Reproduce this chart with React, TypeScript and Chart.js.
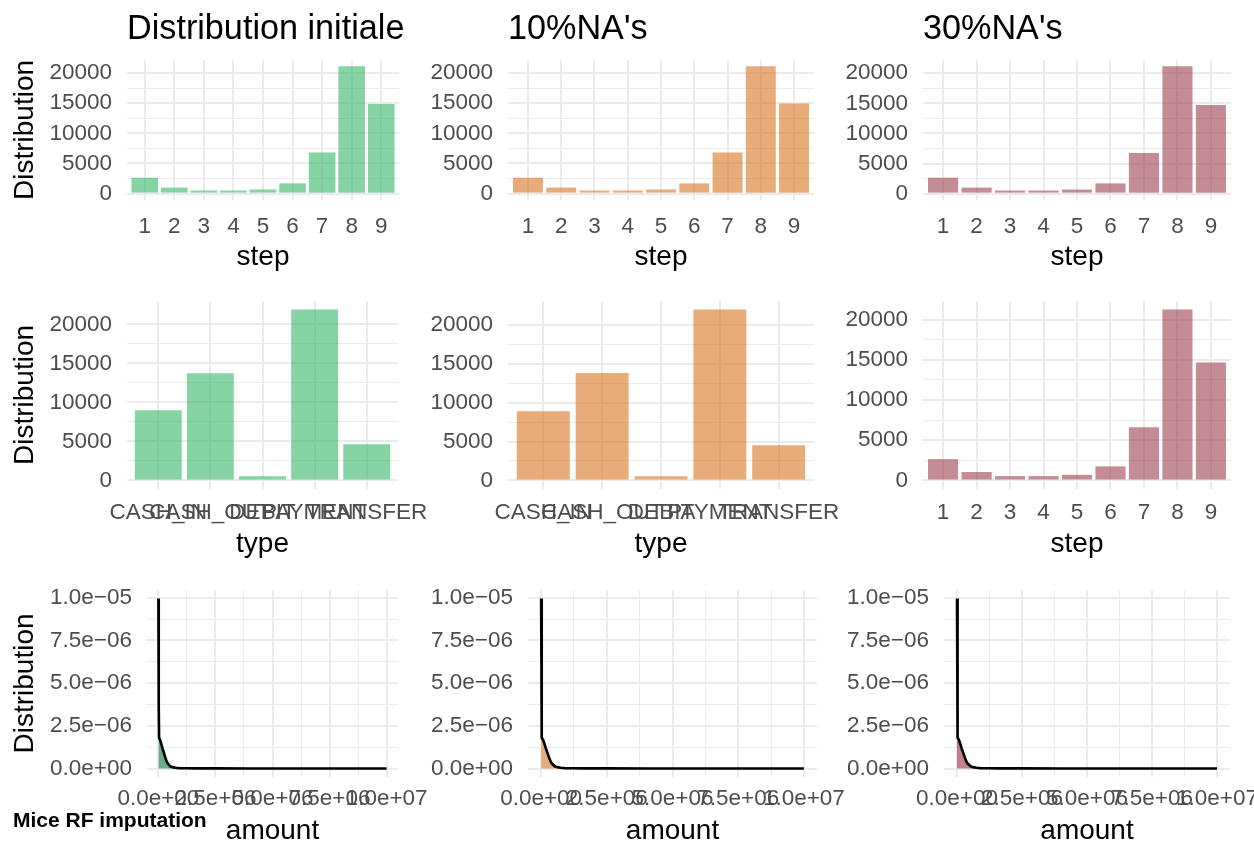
import React, { useEffect, useRef } from 'react';
import { Chart, registerables } from 'chart.js';

Chart.register(...registerables);

// ---------------- data ----------------
const STEP_LABELS = ['1', '2', '3', '4', '5', '6', '7', '8', '9'];
const TYPE_LABELS = ['CASH_IN', 'CASH_OUT', 'DEBIT', 'PAYMENT', 'TRANSFER'];

const STEP_INITIAL = [2650, 1000, 520, 520, 680, 1700, 6800, 21100, 14850];
const STEP_NA10 = [2650, 1000, 520, 520, 680, 1700, 6800, 21100, 14950];
const STEP_NA30 = [2650, 1000, 520, 520, 680, 1700, 6750, 21150, 14750];

const TYPE_INITIAL = [9000, 13750, 550, 21900, 4650];
const TYPE_NA10 = [8900, 13800, 550, 21950, 4530];
const STEP_NA30_ROW2 = [2650, 1050, 540, 540, 700, 1750, 6600, 21240, 14660];

const COUNT_TICKS = [0, 2500, 5000, 7500, 10000, 12500, 15000, 17500, 20000];
const COUNT_TICK_LABELS = ['0', '', '5000', '', '10000', '', '15000', '', '20000'];

const AMOUNT_GRID = [
  0, 15000, 30000, 50000, 80000, 130000, 180000, 230000, 300000, 370000, 430000,
  520000, 620000, 750000, 900000, 1200000, 1600000, 2500000, 4000000, 6000000, 8000000, 10000000,
];
const DENSITY_INITIAL = [
  9.95e-6, 3.6e-6, 1.8e-6, 1.74e-6, 1.65e-6, 1.42e-6, 1.18e-6, 0.96e-6, 0.65e-6, 0.38e-6, 0.26e-6,
  0.13e-6, 0.08e-6, 0.04e-6, 0.02e-6, 0.012e-6, 0.008e-6, 0.005e-6, 0.003e-6, 0.002e-6, 0.001e-6, 0.0005e-6,
];
const DENSITY_NA10 = [
  9.95e-6, 3.6e-6, 1.8e-6, 1.74e-6, 1.65e-6, 1.42e-6, 1.18e-6, 0.96e-6, 0.65e-6, 0.38e-6, 0.26e-6,
  0.13e-6, 0.08e-6, 0.04e-6, 0.02e-6, 0.012e-6, 0.008e-6, 0.005e-6, 0.003e-6, 0.002e-6, 0.001e-6, 0.0005e-6,
];
const DENSITY_NA30 = [
  9.95e-6, 3.6e-6, 1.8e-6, 1.74e-6, 1.65e-6, 1.42e-6, 1.18e-6, 0.96e-6, 0.65e-6, 0.38e-6, 0.26e-6,
  0.13e-6, 0.08e-6, 0.04e-6, 0.02e-6, 0.012e-6, 0.008e-6, 0.005e-6, 0.003e-6, 0.002e-6, 0.001e-6, 0.0005e-6,
];

const DENSITY_TICKS = [0, 1.25e-6, 2.5e-6, 3.75e-6, 5e-6, 6.25e-6, 7.5e-6, 8.75e-6, 1e-5];
const DENSITY_TICK_LABELS = ['0.0e+00', '', '2.5e\u221206', '', '5.0e\u221206', '', '7.5e\u221206', '', '1.0e\u221205'];
const AMOUNT_TICKS = [0, 1.25e6, 2.5e6, 3.75e6, 5e6, 6.25e6, 7.5e6, 8.75e6, 1e7];
const AMOUNT_TICK_LABELS = ['0.0e+00', '', '2.5e+06', '', '5.0e+06', '', '7.5e+06', '', '1.0e+07'];

// ---------------- styles ----------------
const FONT = '"Liberation Sans", Arial, Helvetica, sans-serif';
const GRID = '#EBEBEB';
const TICK_COLOR = '#4D4D4D';
const TICK_SIZE = 22.5;
const AXIS_TITLE_SIZE = 28;
const TITLE_SIZE = 34.2;

const GREEN_BAR = 'rgba(54,182,102,0.6)';
const ORANGE_BAR = 'rgba(217,117,33,0.6)';
const MAUVE_BAR = 'rgba(157,63,78,0.6)';
const GREEN_FILL = 'rgba(46,139,87,0.7)';
const ORANGE_FILL = 'rgba(217,117,33,0.6)';
const MAUVE_FILL = 'rgba(157,63,78,0.65)';

Chart.defaults.font.family = FONT;

type Rect = { l: number; t: number; r: number; b: number };

interface Panel {
  id: string;
  kind: 'bar' | 'density';
  labels?: string[];
  values?: number[];
  density?: number[];
  color: string;
  plot: Rect;
  canvas: Rect;
  xTitle: string;
  xTitleBaseline: number;
  tickPad: number;
  title?: string;
  titleBaseline?: number;
  yTitle?: boolean;
  caption?: boolean;
}

const ROW1 = { plotT: 60, plotB: 200, canT: 0, canB: 282, xTitleBaseline: 265, tickPad: 13.5 };
const ROW2 = { plotT: 301, plotB: 489, canT: 282, canB: 570, xTitleBaseline: 552, tickPad: 10.7 };
const ROW3 = { plotT: 590, plotB: 777, canT: 570, canB: 846, xTitleBaseline: 839, tickPad: 8.7 };
const COLS = [
  { canL: 0, canR: 460 },
  { canL: 415, canR: 875 },
  { canL: 830, canR: 1254 },
];

function mk(row: typeof ROW1, col: number, l: number, r: number, rest: Partial<Panel> & { id: string; kind: 'bar' | 'density'; color: string; xTitle: string }): Panel {
  return {
    plot: { l, t: row.plotT, r, b: row.plotB },
    canvas: { l: COLS[col].canL, t: row.canT, r: COLS[col].canR, b: row.canB },
    xTitleBaseline: row.xTitleBaseline,
    tickPad: row.tickPad,
    ...rest,
  } as Panel;
}

const PANELS: Panel[] = [
  mk(ROW1, 0, 127, 399, { id: 'p11', kind: 'bar', labels: STEP_LABELS, values: STEP_INITIAL, color: GREEN_BAR, xTitle: 'step', title: 'Distribution initiale', titleBaseline: 39, yTitle: true }),
  mk(ROW1, 1, 508, 814, { id: 'p12', kind: 'bar', labels: STEP_LABELS, values: STEP_NA10, color: ORANGE_BAR, xTitle: 'step', title: "10%NA's", titleBaseline: 39 }),
  mk(ROW1, 2, 923, 1231, { id: 'p13', kind: 'bar', labels: STEP_LABELS, values: STEP_NA30, color: MAUVE_BAR, xTitle: 'step', title: "30%NA's", titleBaseline: 39 }),
  mk(ROW2, 0, 127, 398, { id: 'p21', kind: 'bar', labels: TYPE_LABELS, values: TYPE_INITIAL, color: GREEN_BAR, xTitle: 'type', yTitle: true }),
  mk(ROW2, 1, 508, 814, { id: 'p22', kind: 'bar', labels: TYPE_LABELS, values: TYPE_NA10, color: ORANGE_BAR, xTitle: 'type' }),
  mk(ROW2, 2, 923, 1231, { id: 'p23', kind: 'bar', labels: STEP_LABELS, values: STEP_NA30_ROW2, color: MAUVE_BAR, xTitle: 'step' }),
  mk(ROW3, 0, 147, 398, { id: 'p31', kind: 'density', density: DENSITY_INITIAL, color: GREEN_FILL, xTitle: 'amount', yTitle: true, caption: true }),
  mk(ROW3, 1, 528, 817, { id: 'p32', kind: 'density', density: DENSITY_NA10, color: ORANGE_FILL, xTitle: 'amount' }),
  mk(ROW3, 2, 944, 1230, { id: 'p33', kind: 'density', density: DENSITY_NA30, color: MAUVE_FILL, xTitle: 'amount' }),
];

type TextItem = { text: string; x: number; y: number; font: string; color: string; align: CanvasTextAlign; rotate?: boolean };

function textPlugin(items: TextItem[]) {
  return {
    id: 'panelText',
    afterDraw(chart: any) {
      const ctx: CanvasRenderingContext2D = chart.ctx;
      items.forEach((it) => {
        ctx.save();
        ctx.font = it.font;
        ctx.fillStyle = it.color;
        ctx.textAlign = it.align;
        ctx.textBaseline = 'alphabetic';
        if (it.rotate) {
          ctx.translate(it.x, it.y);
          ctx.rotate(-Math.PI / 2);
          ctx.fillText(it.text, 0, 0);
        } else {
          ctx.fillText(it.text, it.x, it.y);
        }
        ctx.restore();
      });
    },
  };
}

function buildConfig(p: Panel): any {
  const cl = p.canvas.l;
  const ct = p.canvas.t;
  const yAxisW = p.plot.l - cl;
  const xAxisH = p.canvas.b - p.plot.b;
  const padTop = p.plot.t - ct;
  const padRight = p.canvas.r - p.plot.r;

  const items: TextItem[] = [];
  items.push({
    text: p.xTitle,
    x: (p.plot.l + p.plot.r) / 2 - cl,
    y: p.xTitleBaseline - ct,
    font: `${AXIS_TITLE_SIZE}px ${FONT}`,
    color: '#000000',
    align: 'center',
  });
  if (p.yTitle) {
    items.push({
      text: 'Distribution',
      x: 33 - cl,
      y: (p.plot.t + p.plot.b) / 2 - ct,
      font: `${AXIS_TITLE_SIZE}px ${FONT}`,
      color: '#000000',
      align: 'center',
      rotate: true,
    });
  }
  if (p.title) {
    items.push({
      text: p.title,
      x: p.plot.l - cl,
      y: (p.titleBaseline as number) - ct,
      font: `${TITLE_SIZE}px ${FONT}`,
      color: '#000000',
      align: 'left',
    });
  }
  if (p.caption) {
    items.push({
      text: 'Mice RF imputation',
      x: 13 - cl,
      y: 827 - ct,
      font: `bold 21px ${FONT}`,
      color: '#000000',
      align: 'left',
    });
  }

  const tickFont = { family: FONT, size: TICK_SIZE };

  const yFit = (scale: any) => {
    scale.width = yAxisW;
    scale.paddingTop = 0;
    scale.paddingBottom = 0;
  };
  const xFit = (scale: any) => {
    scale.height = xAxisH;
    scale.paddingLeft = 0;
    scale.paddingRight = 0;
  };

  let data: any;
  let xScale: any;
  let yScale: any;
  let type: string;

  if (p.kind === 'bar') {
    const labels = p.labels as string[];
    const values = p.values as number[];
    const maxV = Math.max(...values);
    type = 'bar';
    data = {
      datasets: [
        {
          data: values.map((v, i) => ({ x: i + 1, y: v })),
          backgroundColor: p.color,
          borderWidth: 0,
          barPercentage: 0.9,
          categoryPercentage: 1,
        },
      ],
    };
    xScale = {
      type: 'linear',
      bounds: 'data',
      offset: false,
      min: 1 - 0.6,
      max: labels.length + 0.6,
      afterBuildTicks: (scale: any) => {
        scale.ticks = labels.map((_, i) => ({ value: i + 1 }));
      },
      afterFit: xFit,
      ticks: {
        autoSkip: false,
        maxRotation: 0,
        minRotation: 0,
        padding: p.tickPad,
        color: TICK_COLOR,
        font: tickFont,
        callback: (_v: any, i: number) => labels[i],
      },
      grid: { color: GRID, lineWidth: 2, drawTicks: false, offset: false },
      border: { display: false },
    };
    yScale = {
      type: 'linear',
      bounds: 'data',
      min: -0.05 * maxV,
      max: 1.05 * maxV,
      afterBuildTicks: (scale: any) => {
        scale.ticks = COUNT_TICKS.map((v) => ({ value: v }));
      },
      afterFit: yFit,
      ticks: {
        autoSkip: false,
        padding: 15,
        color: TICK_COLOR,
        font: tickFont,
        callback: (_v: any, i: number) => COUNT_TICK_LABELS[i],
      },
      grid: {
        color: GRID,
        lineWidth: (c: any) => (COUNT_TICK_LABELS[c.index] ? 2 : 1),
        drawTicks: false,
      },
      border: { display: false },
    };
  } else {
    const dens = p.density as number[];
    const maxD = Math.max(...dens);
    const minA = Math.min(...AMOUNT_GRID);
    const maxA = Math.max(...AMOUNT_GRID);
    const span = maxA - minA;
    type = 'line';
    data = {
      datasets: [
        {
          data: AMOUNT_GRID.map((a, i) => ({ x: a, y: dens[i] })),
          borderColor: '#000000',
          borderWidth: 2.6,
          pointRadius: 0,
          tension: 0,
          fill: 'origin',
          backgroundColor: p.color,
        },
      ],
    };
    xScale = {
      type: 'linear',
      bounds: 'data',
      offset: false,
      min: minA - 0.05 * span,
      max: maxA + 0.05 * span,
      afterBuildTicks: (scale: any) => {
        scale.ticks = AMOUNT_TICKS.map((v) => ({ value: v }));
      },
      afterFit: xFit,
      ticks: {
        autoSkip: false,
        maxRotation: 0,
        minRotation: 0,
        padding: p.tickPad,
        color: TICK_COLOR,
        font: tickFont,
        callback: (_v: any, i: number) => AMOUNT_TICK_LABELS[i],
      },
      grid: {
        color: GRID,
        lineWidth: (c: any) => (AMOUNT_TICK_LABELS[c.index] ? 2 : 1),
        drawTicks: false,
      },
      border: { display: false },
    };
    yScale = {
      type: 'linear',
      bounds: 'data',
      min: -0.05 * maxD,
      max: 1.05 * maxD,
      afterBuildTicks: (scale: any) => {
        scale.ticks = DENSITY_TICKS.map((v) => ({ value: v }));
      },
      afterFit: yFit,
      ticks: {
        autoSkip: false,
        padding: 15,
        color: TICK_COLOR,
        font: tickFont,
        callback: (_v: any, i: number) => DENSITY_TICK_LABELS[i],
      },
      grid: {
        color: GRID,
        lineWidth: (c: any) => (DENSITY_TICK_LABELS[c.index] ? 2 : 1),
        drawTicks: false,
      },
      border: { display: false },
    };
  }

  return {
    type,
    data,
    options: {
      animation: false,
      responsive: false,
      maintainAspectRatio: false,
      devicePixelRatio: 1,
      layout: { padding: { left: 0, top: padTop, right: padRight, bottom: 0 } },
      plugins: {
        legend: { display: false },
        tooltip: { enabled: false },
        title: { display: false },
      },
      scales: { x: xScale, y: yScale },
    },
    plugins: [textPlugin(items)],
  };
}

function PanelChart({ p }: { p: Panel }) {
  const ref = useRef<HTMLCanvasElement>(null);
  const w = p.canvas.r - p.canvas.l;
  const h = p.canvas.b - p.canvas.t;
  useEffect(() => {
    const chart = new Chart(ref.current as HTMLCanvasElement, buildConfig(p));
    return () => chart.destroy();
  }, []);
  return (
    <canvas
      ref={ref}
      width={w}
      height={h}
      style={{ position: 'absolute', left: p.canvas.l, top: p.canvas.t, width: w, height: h }}
    />
  );
}

export default function App() {
  return (
    <div
      style={{
        position: 'absolute',
        left: 0,
        top: 0,
        width: 1254,
        height: 846,
        background: '#ffffff',
        overflow: 'hidden',
      }}
    >
      {PANELS.map((p) => (
        <PanelChart key={p.id} p={p} />
      ))}
    </div>
  );
}
